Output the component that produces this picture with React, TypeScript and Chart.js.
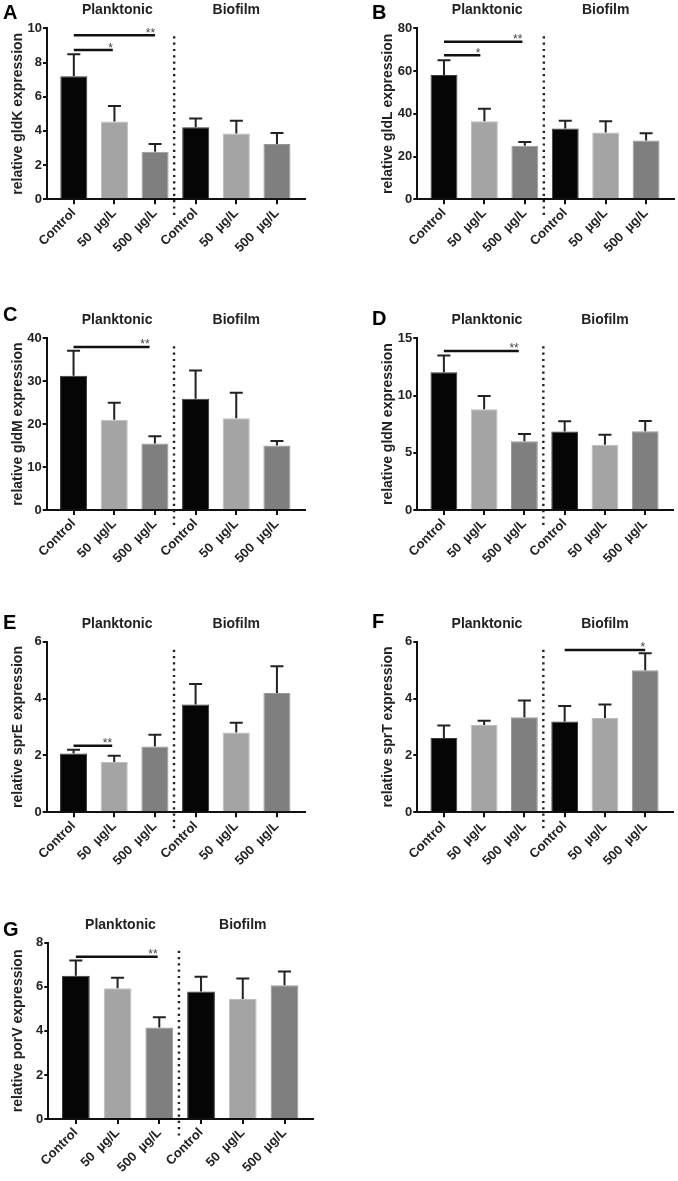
import React, { useEffect, useRef } from 'react';
import { Chart, registerables } from 'chart.js';

Chart.register(...registerables);
Chart.defaults.font.family = "'Liberation Sans', Arial, sans-serif";

// ---------- data ----------
const categories = ['Control', '50  µg/L', '500  µg/L', 'Control', '50  µg/L', '500  µg/L'];
const groupLabels = ['Planktonic', 'Biofilm'];
const barColors = ['#050505', '#a4a4a4', '#7f7f7f', '#050505', '#a4a4a4', '#7f7f7f'];
const barEdges = ['#3a3a3a', '#bdbdbd', '#989898', '#3a3a3a', '#bdbdbd', '#989898'];

const gldKMeans = [7.2, 4.55, 2.78, 4.22, 3.85, 3.23];
const gldKErr = [1.28, 0.9, 0.45, 0.51, 0.75, 0.64];
const gldKTicks = [0, 2, 4, 6, 8, 10];
const gldKSig = [
  { from: 0, to: 0.96, y: 8.73, label: '*' },
  { from: 0, to: 2.0, y: 9.6, label: '**' },
];

const gldLMeans = [58.2, 36.5, 25.0, 33.1, 31.2, 27.5];
const gldLErr = [6.8, 5.9, 1.8, 3.7, 5.3, 3.4];
const gldLTicks = [0, 20, 40, 60, 80];
const gldLSig = [
  { from: 0, to: 0.9, y: 67.4, label: '*' },
  { from: 0, to: 1.94, y: 73.7, label: '**' },
];

const gldMMeans = [31.3, 21.0, 15.5, 25.9, 21.4, 15.0];
const gldMErr = [5.8, 4.0, 1.7, 6.6, 5.9, 1.1];
const gldMTicks = [0, 10, 20, 30, 40];
const gldMSig = [{ from: 0, to: 1.87, y: 38.0, label: '**' }];

const gldNMeans = [12.03, 8.8, 6.0, 6.85, 5.7, 6.87];
const gldNErr = [1.47, 1.16, 0.64, 0.9, 0.88, 0.91];
const gldNTicks = [0, 5, 10, 15];
const gldNSig = [{ from: 0, to: 1.86, y: 13.9, label: '**' }];

const sprEMeans = [2.07, 1.77, 2.31, 3.79, 2.81, 4.2];
const sprEErr = [0.13, 0.22, 0.42, 0.72, 0.34, 0.94];
const sprETicks = [0, 2, 4, 6];
const sprESig = [{ from: 0, to: 0.95, y: 2.34, label: '**' }];

const sprTMeans = [2.61, 3.07, 3.34, 3.19, 3.32, 5.0];
const sprTErr = [0.44, 0.15, 0.59, 0.55, 0.47, 0.59];
const sprTTicks = [0, 2, 4, 6];
const sprTSig = [{ from: 3, to: 5, y: 5.71, label: '*' }];

const porVMeans = [6.5, 5.93, 4.15, 5.78, 5.45, 6.07];
const porVErr = [0.69, 0.48, 0.47, 0.68, 0.93, 0.62];
const porVTicks = [0, 2, 4, 6, 8];
const porVSig = [{ from: 0, to: 1.96, y: 7.36, label: '**' }];

// ---------- layout ----------
type Sig = { from: number; to: number; y: number; label: string };
type Panel = {
  letter: string;
  gene: string;
  means: number[];
  errs: number[];
  yTicks: number[];
  sig: Sig[];
  box: { left: number; top: number; width: number; height: number };
  plot: { left: number; right: number; top: number; bottom: number };
  letterPos: { x: number; y: number };
  titleX: number;
};

const panels: Panel[] = [
  {
    letter: 'A', gene: 'gldK', means: gldKMeans, errs: gldKErr, yTicks: gldKTicks, sig: gldKSig,
    box: { left: 0, top: 0, width: 339, height: 295 },
    plot: { left: 47, right: 305, top: 28.3, bottom: 199.3 },
    letterPos: { x: 3, y: 13.5 }, titleX: 18,
  },
  {
    letter: 'B', gene: 'gldL', means: gldLMeans, errs: gldLErr, yTicks: gldLTicks, sig: gldLSig,
    box: { left: 339, top: 0, width: 339, height: 295 },
    plot: { left: 417.3, right: 674, top: 28.3, bottom: 199.3 },
    letterPos: { x: 372, y: 13.5 }, titleX: 388,
  },
  {
    letter: 'C', gene: 'gldM', means: gldMMeans, errs: gldMErr, yTicks: gldMTicks, sig: gldMSig,
    box: { left: 0, top: 295, width: 339, height: 300 },
    plot: { left: 46.7, right: 305, top: 338.3, bottom: 510 },
    letterPos: { x: 3, y: 315.8 }, titleX: 18,
  },
  {
    letter: 'D', gene: 'gldN', means: gldNMeans, errs: gldNErr, yTicks: gldNTicks, sig: gldNSig,
    box: { left: 339, top: 295, width: 339, height: 300 },
    plot: { left: 417.3, right: 673, top: 338.3, bottom: 510 },
    letterPos: { x: 372, y: 319 }, titleX: 388,
  },
  {
    letter: 'E', gene: 'sprE', means: sprEMeans, errs: sprEErr, yTicks: sprETicks, sig: sprESig,
    box: { left: 0, top: 595, width: 339, height: 305 },
    plot: { left: 46.7, right: 305, top: 641.7, bottom: 812.3 },
    letterPos: { x: 3, y: 623.5 }, titleX: 18,
  },
  {
    letter: 'F', gene: 'sprT', means: sprTMeans, errs: sprTErr, yTicks: sprTTicks, sig: sprTSig,
    box: { left: 339, top: 595, width: 339, height: 305 },
    plot: { left: 417.3, right: 673, top: 641.7, bottom: 812.3 },
    letterPos: { x: 372, y: 622.5 }, titleX: 388,
  },
  {
    letter: 'G', gene: 'porV', means: porVMeans, errs: porVErr, yTicks: porVTicks, sig: porVSig,
    box: { left: 0, top: 900, width: 339, height: 281 },
    plot: { left: 48.3, right: 313.3, top: 942.7, bottom: 1119 },
    letterPos: { x: 3, y: 930 }, titleX: 18,
  },
];

const X_AXIS_H = 60;
const TEXT = '#222';
const AXIS = '#111';

function makePlugin(p: Panel) {
  return {
    id: 'extras' + p.letter,
    afterDatasetsDraw(chart: any) {
      const { ctx } = chart;
      const x = chart.scales.x;
      const y = chart.scales.y;
      ctx.save();
      ctx.strokeStyle = '#222';
      ctx.lineWidth = 2;
      p.means.forEach((m, i) => {
        const px = x.getPixelForValue(i);
        const y0 = y.getPixelForValue(m);
        const y1 = y.getPixelForValue(m + p.errs[i]);
        ctx.beginPath();
        ctx.moveTo(px, y0);
        ctx.lineTo(px, y1);
        ctx.moveTo(px - 6.5, y1);
        ctx.lineTo(px + 6.5, y1);
        ctx.stroke();
      });
      ctx.restore();
    },
    afterDraw(chart: any) {
      const { ctx, chartArea } = chart;
      const x = chart.scales.x;
      const y = chart.scales.y;
      ctx.save();
      // dotted separator
      const sx = x.getPixelForValue(2.47);
      ctx.strokeStyle = '#222';
      ctx.lineWidth = 2.4;
      ctx.setLineDash([2.2, 4.1]);
      ctx.beginPath();
      ctx.moveTo(sx, chartArea.top + 8);
      ctx.lineTo(sx, chartArea.bottom + 18);
      ctx.stroke();
      ctx.setLineDash([]);
      // significance bars
      p.sig.forEach((s) => {
        const x0 = x.getPixelForValue(s.from);
        const x1 = x.getPixelForValue(s.to);
        const yy = y.getPixelForValue(s.y);
        ctx.strokeStyle = AXIS;
        ctx.lineWidth = 2.5;
        ctx.beginPath();
        ctx.moveTo(x0, yy);
        ctx.lineTo(x1, yy);
        ctx.stroke();
        ctx.fillStyle = '#444';
        ctx.font = "12px 'Liberation Sans', Arial, sans-serif";
        ctx.textAlign = 'right';
        ctx.textBaseline = 'alphabetic';
        ctx.fillText(s.label, x1, yy + 1.5);
      });
      // group labels
      ctx.fillStyle = TEXT;
      ctx.font = "bold 14px 'Liberation Sans', Arial, sans-serif";
      ctx.textAlign = 'center';
      ctx.textBaseline = 'middle';
      ctx.fillText(groupLabels[0], x.getPixelForValue(1.07), chartArea.top - 18);
      ctx.fillText(groupLabels[1], x.getPixelForValue(4.0), chartArea.top - 18);
      // panel letter
      ctx.fillStyle = '#000';
      ctx.font = "bold 20px 'Liberation Sans', Arial, sans-serif";
      ctx.textAlign = 'left';
      ctx.textBaseline = 'middle';
      ctx.fillText(p.letter, p.letterPos.x - p.box.left, p.letterPos.y - p.box.top);
      ctx.restore();
    },
  };
}

function makeConfig(p: Panel): any {
  const tickFont = { size: 13, weight: 'bold' as const };
  return {
    type: 'bar',
    data: {
      datasets: [
        {
          data: p.means.map((v, i) => ({ x: i, y: v })),
          backgroundColor: barColors,
          borderColor: barEdges,
          borderWidth: 1,
          categoryPercentage: 1,
          barPercentage: 0.665,
        },
      ],
    },
    options: {
      animation: false,
      responsive: false,
      maintainAspectRatio: false,
      events: [],
      layout: {
        padding: {
          left: 0,
          top: p.plot.top - p.box.top,
          right: p.box.left + p.box.width - p.plot.right,
          bottom: p.box.height - (p.plot.bottom - p.box.top) - X_AXIS_H,
        },
      },
      plugins: { legend: { display: false }, tooltip: { enabled: false }, title: { display: false } },
      scales: {
        x: {
          type: 'linear',
          min: -0.66,
          max: 5.69,
          bounds: 'data',
          offset: false,
          z: 1,
          afterBuildTicks: (s: any) => {
            s.ticks = categories.map((_, i) => ({ value: i }));
          },
          afterFit: (s: any) => {
            s.height = X_AXIS_H;
          },
          ticks: {
            autoSkip: false,
            minRotation: 45,
            maxRotation: 45,
            padding: 1,
            color: TEXT,
            font: tickFont,
            callback: (v: number) => categories[v],
          },
          grid: { display: true, offset: false, drawOnChartArea: false, drawTicks: true, tickLength: 5, color: AXIS, lineWidth: 2 },
          border: { display: true, color: AXIS, width: 2 },
        },
        y: {
          type: 'linear',
          min: 0,
          max: p.yTicks[p.yTicks.length - 1],
          z: 1,
          afterBuildTicks: (s: any) => {
            s.ticks = p.yTicks.map((v) => ({ value: v }));
          },
          afterFit: (s: any) => {
            s.width = p.plot.left - p.box.left;
          },
          ticks: { padding: 1, color: TEXT, font: tickFont },
          grid: { display: true, drawOnChartArea: false, drawTicks: true, tickLength: 4, color: AXIS, lineWidth: 2 },
          border: { display: true, color: AXIS, width: 2 },
          title: {
            display: true,
            text: `relative ${p.gene} expression`,
            color: TEXT,
            font: { size: 14, weight: 'bold' },
            padding: { top: p.titleX - p.box.left - 8.4, bottom: 0 },
          },
        },
      },
    },
    plugins: [makePlugin(p)],
  };
}

export default function App() {
  const refs = useRef<(HTMLCanvasElement | null)[]>([]);
  useEffect(() => {
    document.body.style.margin = '0';
    const charts = panels.map((p, i) => new Chart(refs.current[i] as HTMLCanvasElement, makeConfig(p)));
    return () => charts.forEach((c) => c.destroy());
  }, []);
  return (
    <div style={{ position: 'relative', width: 678, height: 1181, background: '#fff' }}>
      {panels.map((p, i) => (
        <canvas
          key={p.letter}
          ref={(el) => {
            refs.current[i] = el;
          }}
          width={p.box.width}
          height={p.box.height}
          style={{ position: 'absolute', left: p.box.left, top: p.box.top, width: p.box.width, height: p.box.height }}
        />
      ))}
    </div>
  );
}
